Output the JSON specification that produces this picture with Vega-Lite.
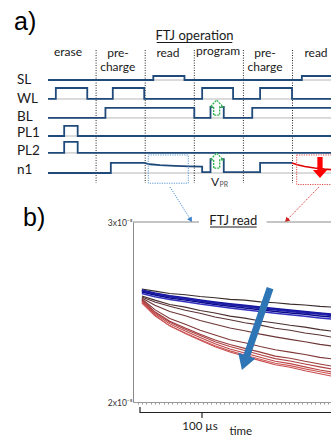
{
"$schema":"https://vega.github.io/schema/vega-lite/v6.json",
"width":331,"height":436,"padding":0,"autosize":{"type":"none"},
"background":"white",
"config":{"view":{"stroke":null},"font":"Lato"},
"datasets":{
"sig":[
{"s":"SL","i":0,"t":0.02,"v":0},{"s":"SL","i":1,"t":2.165,"v":0},{"s":"SL","i":2,"t":2.165,"v":0.215},{"s":"SL","i":3,"t":2.8,"v":0.215},{"s":"SL","i":4,"t":2.8,"v":0},{"s":"SL","i":5,"t":5.19,"v":0},{"s":"SL","i":6,"t":5.19,"v":0.215},{"s":"SL","i":7,"t":6.2,"v":0.215},
{"s":"WL","i":0,"t":0.02,"v":-1.02},{"s":"WL","i":1,"t":0.18,"v":-1.02},{"s":"WL","i":2,"t":0.18,"v":-0.43},{"s":"WL","i":3,"t":0.82,"v":-0.43},{"s":"WL","i":4,"t":0.82,"v":-1.02},{"s":"WL","i":5,"t":1.34,"v":-1.02},{"s":"WL","i":6,"t":1.34,"v":-0.43},{"s":"WL","i":7,"t":1.98,"v":-0.43},{"s":"WL","i":8,"t":1.98,"v":-1.02},{"s":"WL","i":9,"t":3.16,"v":-1.02},{"s":"WL","i":10,"t":3.16,"v":-0.43},{"s":"WL","i":11,"t":3.79,"v":-0.43},{"s":"WL","i":12,"t":3.79,"v":-1.02},{"s":"WL","i":13,"t":4.34,"v":-1.02},{"s":"WL","i":14,"t":4.34,"v":-0.43},{"s":"WL","i":15,"t":4.99,"v":-0.43},{"s":"WL","i":16,"t":4.99,"v":-1.02},{"s":"WL","i":17,"t":6.2,"v":-1.02},
{"s":"BL","i":0,"t":0.02,"v":-2.04},{"s":"BL","i":1,"t":1.19,"v":-2.04},{"s":"BL","i":2,"t":1.19,"v":-1.5},{"s":"BL","i":3,"t":3.0,"v":-1.5},{"s":"BL","i":4,"t":3.0,"v":-2.04},{"s":"BL","i":5,"t":3.33,"v":-2.04},{"s":"BL","i":6,"t":3.33,"v":-1.45},{"s":"BL","i":7,"t":3.6,"v":-1.45},{"s":"BL","i":8,"t":3.6,"v":-2.04},{"s":"BL","i":9,"t":4.18,"v":-2.04},{"s":"BL","i":10,"t":4.18,"v":-1.5},{"s":"BL","i":11,"t":6.2,"v":-1.5},
{"s":"PL1","i":0,"t":0.02,"v":-3.01},{"s":"PL1","i":1,"t":0.35,"v":-3.01},{"s":"PL1","i":2,"t":0.35,"v":-2.47},{"s":"PL1","i":3,"t":0.625,"v":-2.47},{"s":"PL1","i":4,"t":0.625,"v":-3.01},{"s":"PL1","i":5,"t":6.2,"v":-3.01},
{"s":"PL2","i":0,"t":0.02,"v":-3.92},{"s":"PL2","i":1,"t":0.35,"v":-3.92},{"s":"PL2","i":2,"t":0.35,"v":-3.33},{"s":"PL2","i":3,"t":0.625,"v":-3.33},{"s":"PL2","i":4,"t":0.625,"v":-3.92},{"s":"PL2","i":5,"t":6.2,"v":-3.92},
{"s":"n1","i":0,"t":0.02,"v":-5},{"s":"n1","i":1,"t":1.3,"v":-5},{"s":"n1","i":2,"t":1.3,"v":-4.46},{"s":"n1","i":3,"t":1.98,"v":-4.46},{"s":"n1","i":4,"t":2.1,"v":-4.53},{"s":"n1","i":5,"t":2.3,"v":-4.58},{"s":"n1","i":6,"t":2.6,"v":-4.62},{"s":"n1","i":7,"t":2.9,"v":-4.645},{"s":"n1","i":8,"t":3.16,"v":-4.66},{"s":"n1","i":9,"t":3.16,"v":-4.95},{"s":"n1","i":10,"t":3.33,"v":-4.95},{"s":"n1","i":11,"t":3.33,"v":-4.25},{"s":"n1","i":12,"t":3.6,"v":-4.25},{"s":"n1","i":13,"t":3.6,"v":-4.95},{"s":"n1","i":14,"t":4.34,"v":-4.95},{"s":"n1","i":15,"t":4.34,"v":-4.46},{"s":"n1","i":16,"t":4.99,"v":-4.46}
],
"curves":[
{"c":"c01","t":3,"I":26.28},{"c":"c01","t":24,"I":26.16},{"c":"c01","t":48,"I":26.03},{"c":"c01","t":73,"I":25.96},{"c":"c01","t":97,"I":25.86},{"c":"c01","t":121,"I":25.79},{"c":"c01","t":145,"I":25.70},{"c":"c01","t":169,"I":25.66},{"c":"c01","t":194,"I":25.56},{"c":"c01","t":218,"I":25.51},{"c":"c01","t":242,"I":25.44},{"c":"c01","t":266,"I":25.39},{"c":"c01","t":290,"I":25.31},{"c":"c01","t":315,"I":25.27},
{"c":"c06","t":3,"I":25.89},{"c":"c06","t":24,"I":25.66},{"c":"c06","t":48,"I":25.42},{"c":"c06","t":73,"I":25.27},{"c":"c06","t":97,"I":25.08},{"c":"c06","t":121,"I":24.94},{"c":"c06","t":145,"I":24.77},{"c":"c06","t":169,"I":24.66},{"c":"c06","t":194,"I":24.50},{"c":"c06","t":218,"I":24.39},{"c":"c06","t":242,"I":24.26},{"c":"c06","t":266,"I":24.16},{"c":"c06","t":290,"I":24.02},{"c":"c06","t":315,"I":23.92},
{"c":"c07","t":3,"I":25.83},{"c":"c07","t":24,"I":25.55},{"c":"c07","t":48,"I":25.32},{"c":"c07","t":73,"I":25.10},{"c":"c07","t":97,"I":24.93},{"c":"c07","t":121,"I":24.72},{"c":"c07","t":145,"I":24.57},{"c":"c07","t":169,"I":24.40},{"c":"c07","t":194,"I":24.27},{"c":"c07","t":218,"I":24.10},{"c":"c07","t":242,"I":23.99},{"c":"c07","t":266,"I":23.83},{"c":"c07","t":290,"I":23.72},{"c":"c07","t":315,"I":23.57},
{"c":"c08","t":3,"I":25.78},{"c":"c08","t":24,"I":25.38},{"c":"c08","t":48,"I":25.03},{"c":"c08","t":73,"I":24.79},{"c":"c08","t":97,"I":24.53},{"c":"c08","t":121,"I":24.32},{"c":"c08","t":145,"I":24.11},{"c":"c08","t":169,"I":23.96},{"c":"c08","t":194,"I":23.77},{"c":"c08","t":218,"I":23.62},{"c":"c08","t":242,"I":23.48},{"c":"c08","t":266,"I":23.35},{"c":"c08","t":290,"I":23.20},{"c":"c08","t":315,"I":23.09},
{"c":"c09","t":3,"I":25.72},{"c":"c09","t":24,"I":25.13},{"c":"c09","t":48,"I":24.64},{"c":"c09","t":73,"I":24.32},{"c":"c09","t":97,"I":23.99},{"c":"c09","t":121,"I":23.72},{"c":"c09","t":145,"I":23.46},{"c":"c09","t":169,"I":23.29},{"c":"c09","t":194,"I":23.08},{"c":"c09","t":218,"I":22.90},{"c":"c09","t":242,"I":22.77},{"c":"c09","t":266,"I":22.64},{"c":"c09","t":290,"I":22.48},{"c":"c09","t":315,"I":22.37},
{"c":"c10","t":3,"I":25.67},{"c":"c10","t":24,"I":25.01},{"c":"c10","t":48,"I":24.49},{"c":"c10","t":73,"I":24.11},{"c":"c10","t":97,"I":23.77},{"c":"c10","t":121,"I":23.45},{"c":"c10","t":145,"I":23.19},{"c":"c10","t":169,"I":22.98},{"c":"c10","t":194,"I":22.77},{"c":"c10","t":218,"I":22.55},{"c":"c10","t":242,"I":22.43},{"c":"c10","t":266,"I":22.26},{"c":"c10","t":290,"I":22.11},{"c":"c10","t":315,"I":21.96},
{"c":"c11","t":3,"I":25.67},{"c":"c11","t":24,"I":24.98},{"c":"c11","t":48,"I":24.43},{"c":"c11","t":73,"I":24.04},{"c":"c11","t":97,"I":23.69},{"c":"c11","t":121,"I":23.35},{"c":"c11","t":145,"I":23.08},{"c":"c11","t":169,"I":22.86},{"c":"c11","t":194,"I":22.63},{"c":"c11","t":218,"I":22.41},{"c":"c11","t":242,"I":22.28},{"c":"c11","t":266,"I":22.11},{"c":"c11","t":290,"I":21.95},{"c":"c11","t":315,"I":21.80},
{"c":"c12","t":3,"I":25.61},{"c":"c12","t":24,"I":24.90},{"c":"c12","t":48,"I":24.34},{"c":"c12","t":73,"I":23.94},{"c":"c12","t":97,"I":23.58},{"c":"c12","t":121,"I":23.23},{"c":"c12","t":145,"I":22.94},{"c":"c12","t":169,"I":22.72},{"c":"c12","t":194,"I":22.49},{"c":"c12","t":218,"I":22.26},{"c":"c12","t":242,"I":22.13},{"c":"c12","t":266,"I":21.95},{"c":"c12","t":290,"I":21.78},{"c":"c12","t":315,"I":21.63},
{"c":"c13","t":3,"I":25.56},{"c":"c13","t":24,"I":24.82},{"c":"c13","t":48,"I":24.23},{"c":"c13","t":73,"I":23.81},{"c":"c13","t":97,"I":23.43},{"c":"c13","t":121,"I":23.07},{"c":"c13","t":145,"I":22.78},{"c":"c13","t":169,"I":22.54},{"c":"c13","t":194,"I":22.30},{"c":"c13","t":218,"I":22.07},{"c":"c13","t":242,"I":21.93},{"c":"c13","t":266,"I":21.74},{"c":"c13","t":290,"I":21.57},{"c":"c13","t":315,"I":21.40},
{"c":"c14","t":3,"I":25.50},{"c":"c14","t":24,"I":24.79},{"c":"c14","t":48,"I":24.23},{"c":"c14","t":73,"I":23.83},{"c":"c14","t":97,"I":23.47},{"c":"c14","t":121,"I":23.12},{"c":"c14","t":145,"I":22.84},{"c":"c14","t":169,"I":22.61},{"c":"c14","t":194,"I":22.38},{"c":"c14","t":218,"I":22.15},{"c":"c14","t":242,"I":22.02},{"c":"c14","t":266,"I":21.84},{"c":"c14","t":290,"I":21.68},{"c":"c14","t":315,"I":21.52}
],
"blue":[
{"c":"b1","t":3,"I":26.22},{"c":"b1","t":24,"I":26.06},{"c":"b1","t":48,"I":25.91},{"c":"b1","t":73,"I":25.79},{"c":"b1","t":97,"I":25.67},{"c":"b1","t":121,"I":25.56},{"c":"b1","t":145,"I":25.46},{"c":"b1","t":169,"I":25.37},{"c":"b1","t":194,"I":25.28},{"c":"b1","t":218,"I":25.19},{"c":"b1","t":242,"I":25.11},{"c":"b1","t":266,"I":25.03},{"c":"b1","t":290,"I":24.95},{"c":"b1","t":315,"I":24.87},
{"c":"b2","t":3,"I":26.17},{"c":"b2","t":24,"I":26.00},{"c":"b2","t":48,"I":25.85},{"c":"b2","t":73,"I":25.72},{"c":"b2","t":97,"I":25.61},{"c":"b2","t":121,"I":25.49},{"c":"b2","t":145,"I":25.39},{"c":"b2","t":169,"I":25.30},{"c":"b2","t":194,"I":25.20},{"c":"b2","t":218,"I":25.11},{"c":"b2","t":242,"I":25.03},{"c":"b2","t":266,"I":24.95},{"c":"b2","t":290,"I":24.87},{"c":"b2","t":315,"I":24.78},
{"c":"b3","t":3,"I":26.11},{"c":"b3","t":24,"I":25.94},{"c":"b3","t":48,"I":25.78},{"c":"b3","t":73,"I":25.66},{"c":"b3","t":97,"I":25.54},{"c":"b3","t":121,"I":25.42},{"c":"b3","t":145,"I":25.32},{"c":"b3","t":169,"I":25.22},{"c":"b3","t":194,"I":25.13},{"c":"b3","t":218,"I":25.03},{"c":"b3","t":242,"I":24.95},{"c":"b3","t":266,"I":24.87},{"c":"b3","t":290,"I":24.78},{"c":"b3","t":315,"I":24.70},
{"c":"b4","t":3,"I":26.03},{"c":"b4","t":24,"I":25.85},{"c":"b4","t":48,"I":25.70},{"c":"b4","t":73,"I":25.57},{"c":"b4","t":97,"I":25.44},{"c":"b4","t":121,"I":25.33},{"c":"b4","t":145,"I":25.22},{"c":"b4","t":169,"I":25.12},{"c":"b4","t":194,"I":25.03},{"c":"b4","t":218,"I":24.93},{"c":"b4","t":242,"I":24.85},{"c":"b4","t":266,"I":24.76},{"c":"b4","t":290,"I":24.67},{"c":"b4","t":315,"I":24.59},
{"c":"b5","t":3,"I":26.19},{"c":"b5","t":24,"I":26.02},{"c":"b5","t":48,"I":25.88},{"c":"b5","t":73,"I":25.75},{"c":"b5","t":97,"I":25.63},{"c":"b5","t":121,"I":25.52},{"c":"b5","t":145,"I":25.42},{"c":"b5","t":169,"I":25.33},{"c":"b5","t":194,"I":25.24},{"c":"b5","t":218,"I":25.15},{"c":"b5","t":242,"I":25.07},{"c":"b5","t":266,"I":24.99},{"c":"b5","t":290,"I":24.91},{"c":"b5","t":315,"I":24.83}
]
},
"layer":[
{
"encoding":{
"x":{"field":"t","type":"quantitative","scale":{"domain":[0,5],"range":[47,292.5],"nice":false,"zero":false},"axis":null},
"y":{"field":"v","type":"quantitative","scale":{"domain":[-5,0],"range":[173,80],"nice":false,"zero":false},"axis":null}
},
"layer":[
{"data":{"values":[{"t":0.02,"t2":6.2,"v":0},{"t":0.02,"t2":6.2,"v":-1.02},{"t":0.02,"t2":6.2,"v":-2.04},{"t":0.02,"t2":6.2,"v":-3.01},{"t":0.02,"t2":6.2,"v":-3.92},{"t":0.02,"t2":6.2,"v":-5}]},
 "mark":{"type":"rule","color":"#a3a3a3","strokeWidth":0.8},"encoding":{"x2":{"field":"t2"}}},
{"data":{"values":[{"t":1,"v":1.61,"v2":-5.54},{"t":2,"v":1.61,"v2":-5.54},{"t":3,"v":1.61,"v2":-5.54},{"t":4,"v":1.61,"v2":-5.54},{"t":5,"v":1.61,"v2":-5.54}]},
 "mark":{"type":"rule","color":"#222222","strokeWidth":1,"strokeDash":[1,1.5]},"encoding":{"y2":{"field":"v2"}}},
{"data":{"name":"sig"},"mark":{"type":"line","color":"#1f4a7a","strokeWidth":1.8},"encoding":{"detail":{"field":"s"},"order":{"field":"i","type":"quantitative"}}},
{"data":{"values":[{"i":0,"t":4.99,"v":-4.46},{"i":1,"t":5.1,"v":-4.56},{"i":2,"t":5.25,"v":-4.65},{"i":3,"t":5.45,"v":-4.73},{"i":4,"t":5.65,"v":-4.79},{"i":5,"t":5.9,"v":-4.84},{"i":6,"t":6.2,"v":-4.87}]},
 "mark":{"type":"line","color":"#e00000","strokeWidth":1.6},"encoding":{"order":{"field":"i","type":"quantitative"}}},
{"data":{"values":[{"t":2.063,"t2":2.878,"v":-4.03,"v2":-5.55}]},
 "mark":{"type":"rect","fillOpacity":0,"stroke":"#5b9bd5","strokeWidth":1,"strokeDash":[1.2,1.2]},"encoding":{"x2":{"field":"t2"},"y2":{"field":"v2"}}},
{"data":{"values":[{"t":5.085,"t2":6.3,"v":-4.03,"v2":-5.62}]},
 "mark":{"type":"rect","fillOpacity":0,"stroke":"#e04848","strokeWidth":1,"strokeDash":[1.2,1.2]},"encoding":{"x2":{"field":"t2"},"y2":{"field":"v2"}}},
{"data":{"values":[{"i":0,"t":2.505,"v":-5.75},{"i":1,"t":2.953,"v":-7.634}]},
 "mark":{"type":"line","color":"#4a90d9","strokeWidth":1,"strokeDash":[1.2,1.2]},"encoding":{"order":{"field":"i","type":"quantitative"}}},
{"data":{"values":[{"i":0,"t":5.54,"v":-5.75},{"i":1,"t":4.847,"v":-7.634}]},
 "mark":{"type":"line","color":"#e03030","strokeWidth":1,"strokeDash":[1.2,1.2]},"encoding":{"order":{"field":"i","type":"quantitative"}}},
{"data":{"values":[{"t":2.926,"v":-7.52}]},"mark":{"type":"point","shape":"triangle-down","filled":true,"color":"#3a80c8","size":30,"angle":-32,"opacity":1}},
{"data":{"values":[{"t":4.882,"v":-7.54}]},"mark":{"type":"point","shape":"triangle-down","filled":true,"color":"#d02020","size":30,"angle":44,"opacity":1}},
{"data":{"values":[{"t":3.456,"v":-1.48},{"t":3.456,"v":-4.33}]},
 "mark":{"type":"point","shape":"M -0.4 1 L -0.4 -0.1 L -0.84 -0.1 L 0 -1 L 0.84 -0.1 L 0.4 -0.1 L 0.4 1 Z","size":225,"filled":true,"fill":"white","fillOpacity":1,"stroke":"#2db34a","strokeWidth":1.3,"strokeDash":[2,1],"opacity":1}},
{"data":{"values":[{"t":5.56,"v":-4.7}]},
 "mark":{"type":"point","shape":"M -0.25 -1 L 0.25 -1 L 0.25 0.24 L 0.67 0.24 L 0 1 L -0.67 0.24 L -0.25 0.24 Z","size":441,"filled":true,"fill":"#ff0000","fillOpacity":1,"strokeWidth":0,"opacity":1}},
{"data":{"values":[{"t":-0.611,"v":-0.215,"lab":"SL"},{"t":-0.611,"v":-1.22,"lab":"WL"},{"t":-0.611,"v":-2.19,"lab":"BL"},{"t":-0.611,"v":-3.08,"lab":"PL1"},{"t":-0.611,"v":-4.03,"lab":"PL2"},{"t":-0.611,"v":-5.05,"lab":"n1"}]},
 "mark":{"type":"text","align":"left","baseline":"alphabetic","fontSize":13.5,"color":"#1a1a1a"},"encoding":{"text":{"field":"lab"}}},
{"data":{"values":[{"t":0.428,"v":1.28,"lab":"erase"},{"t":1.446,"v":1.25,"lab":"pre-"},{"t":1.44,"v":0.484,"lab":"charge"},{"t":2.464,"v":1.25,"lab":"read"},{"t":3.483,"v":1.36,"lab":"program"},{"t":4.44,"v":1.25,"lab":"pre-"},{"t":4.44,"v":0.484,"lab":"charge"},{"t":5.479,"v":1.25,"lab":"read"}]},
 "mark":{"type":"text","align":"center","baseline":"alphabetic","fontSize":12,"color":"#1a1a1a"},"encoding":{"text":{"field":"lab"}}},
{"data":{"values":[{"t":3.004,"v":2.15,"lab":"FTJ operation"}]},
 "mark":{"type":"text","align":"center","baseline":"alphabetic","fontSize":13,"color":"#1a1a1a"},"encoding":{"text":{"field":"lab"}}},
{"data":{"values":[{"t":2.234,"t2":3.774,"v":2.016}]},"mark":{"type":"rule","color":"#1a1a1a","strokeWidth":1},"encoding":{"x2":{"field":"t2"}}},
{"data":{"values":[{"t":-0.67,"v":2.715,"lab":"a)"}]},
 "mark":{"type":"text","align":"left","baseline":"alphabetic","fontSize":25,"font":"Liberation Sans","color":"#000000"},"encoding":{"text":{"field":"lab"}}},
{"data":{"values":[{"t":3.34,"v":-5.70,"lab":"V"}]},
 "mark":{"type":"text","align":"left","baseline":"alphabetic","fontSize":12,"color":"#1a1a1a"},"encoding":{"text":{"field":"lab"}}},
{"data":{"values":[{"t":3.513,"v":-5.74,"lab":"PR"}]},
 "mark":{"type":"text","align":"left","baseline":"alphabetic","fontSize":7,"color":"#555555"},"encoding":{"text":{"field":"lab"}}}
]
},
{
"encoding":{
"x":{"field":"t","type":"quantitative","scale":{"domain":[-11.29,309.68],"range":[133,332],"nice":false,"zero":false},
 "axis":{"orient":"bottom","offset":-34,"values":[-4,3,10,17,24,31,38,45,52,59,66,73,80,87,94,101,108,115,122,129,136,143,150,157,164,171,178,185,192,199,206,213,220,227,234,241,248,255,262,269,276,283,290,297,304],"labels":false,"title":null,"grid":false,"domainColor":"#9a9a9a","tickColor":"#9a9a9a","tickSize":2,"tickWidth":1,"domainWidth":1}},
"y":{"field":"I","type":"quantitative","scale":{"domain":[20,30],"range":[402,222],"nice":false,"zero":false},
 "axis":{"orient":"left","offset":-133,"values":[20,30],"labelExpr":"datum.value > 25 ? '3x10⁻⁵' : '2x10⁻⁵'","ticks":false,"grid":false,"title":null,"domainColor":"#8a8a8a","domainWidth":1,"labelFontSize":8.5,"labelColor":"#333333","labelPadding":1}}
},
"layer":[
{"data":{"name":"curves"},"mark":{"type":"line","strokeWidth":1.1},
 "encoding":{"color":{"field":"c","type":"nominal","legend":null,"scale":{"domain":["c01","c06","c07","c08","c09","c10","c11","c12","c13","c14","b1","b2","b3","b4","b5"],"range":["#3a2b2b","#4a2f30","#5a3233","#6c3536","#803839","#9a3c3d","#b04243","#bd4647","#c84e4f","#cf5a5a","#14149c","#2525b0","#0c0c8c","#3232bf","#1c1ca6"]}}}},
{"data":{"name":"blue"},"mark":{"type":"line","strokeWidth":1.5},
 "encoding":{"color":{"field":"c","type":"nominal","legend":null,"scale":{"domain":["c01","c06","c07","c08","c09","c10","c11","c12","c13","c14","b1","b2","b3","b4","b5"],"range":["#3a2b2b","#4a2f30","#5a3233","#6c3536","#803839","#9a3c3d","#b04243","#bd4647","#c84e4f","#cf5a5a","#14149c","#2525b0","#0c0c8c","#3232bf","#1c1ca6"]}}}},
{"data":{"values":[{"t":-11.29,"t2":95.2,"I":30},{"t":204.3,"t2":330,"I":30}]},"mark":{"type":"rule","color":"#8a8a8a","strokeWidth":1},"encoding":{"x2":{"field":"t2"}}},
{"data":{"values":[{"t":150.5,"I":29.817,"lab":"FTJ read"}]},
 "mark":{"type":"text","align":"center","baseline":"alphabetic","fontSize":13,"color":"#1a1a1a"},"encoding":{"text":{"field":"lab"}}},
{"data":{"values":[{"t":112.9,"t2":188.2,"I":29.722}]},"mark":{"type":"rule","color":"#1a1a1a","strokeWidth":1},"encoding":{"x2":{"field":"t2"}}},
{"data":{"values":[{"t":187.1,"I":24.056}]},
 "mark":{"type":"point","shape":"M -0.081 -1 L 0.081 -1 L 0.081 0.65 L 0.21 0.65 L 0 1 L -0.21 0.65 L -0.081 0.65 Z","size":7500,"angle":19,"filled":true,"fill":"#2e75b6","fillOpacity":1,"strokeWidth":0,"opacity":1}},
{"data":{"values":[{"i":0,"t":0,"I":19.722},{"i":1,"t":0,"I":19.417},{"i":2,"t":330,"I":19.417}]},
 "mark":{"type":"line","color":"#222222","strokeWidth":1.2},"encoding":{"order":{"field":"i","type":"quantitative"}}},
{"data":{"values":[{"t":100,"I":19.417,"I2":19.111}]},"mark":{"type":"rule","color":"#222222","strokeWidth":1.2},"encoding":{"y2":{"field":"I2"}}},
{"data":{"values":[{"t":96.8,"I":18.444,"lab":"100 µs"}]},
 "mark":{"type":"text","align":"center","baseline":"alphabetic","fontSize":11.5,"color":"#1a1a1a"},"encoding":{"text":{"field":"lab"}}},
{"data":{"values":[{"t":162.6,"I":18.167,"lab":"time"}]},
 "mark":{"type":"text","align":"center","baseline":"alphabetic","fontSize":11.5,"color":"#1a1a1a"},"encoding":{"text":{"field":"lab"}}},
{"data":{"values":[{"t":-188.7,"I":29.778,"lab":"b)"}]},
 "mark":{"type":"text","align":"left","baseline":"alphabetic","fontSize":25,"font":"Liberation Sans","color":"#000000"},"encoding":{"text":{"field":"lab"}}}
]
}
],
"resolve":{"scale":{"x":"independent","y":"independent"}}
}
